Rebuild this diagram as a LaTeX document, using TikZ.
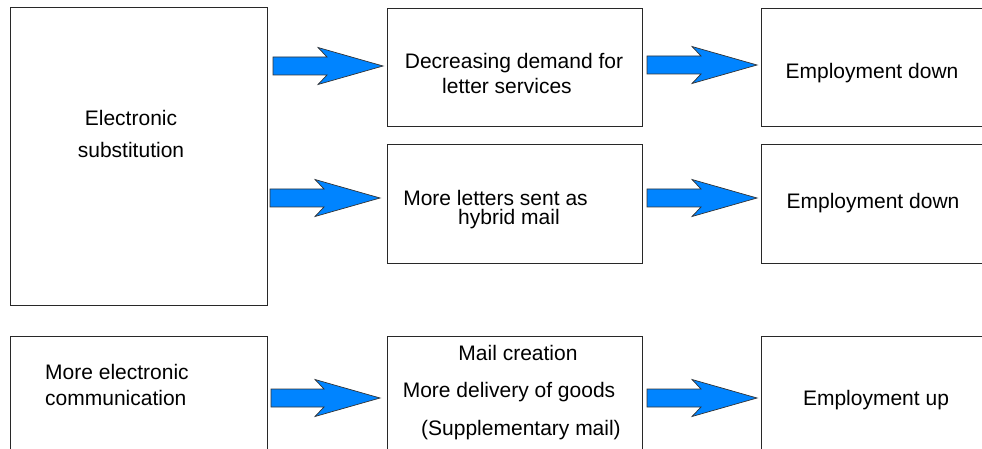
\documentclass[tikz,border=0pt]{standalone}
\usepackage{fontspec}
\setmainfont{Liberation Sans}
\definecolor{arrowblue}{RGB}{0,132,255}
\definecolor{boxline}{RGB}{40,40,40}
\tikzset{
  box/.style={draw=boxline, line width=1pt, fill=white, inner sep=0pt},
  lbl/.style={inner sep=0pt, font=\fontsize{21}{24}\selectfont, text=black},
  tight/.style={text height=0.72em, text depth=0.0em, anchor=base},
  blockarr/.style={draw=black!80, line width=0.7pt, fill=arrowblue, line join=miter}
}
\newcommand\blockarrow[3]{%
  \draw[blockarr] (#1,#3-9) -- (#2-56,#3-9) -- (#2-65,#3-18.5) -- (#2,#3)
    -- (#2-65,#3+18.5) -- (#2-56,#3+9) -- (#1,#3+9) -- cycle;}
\begin{document}
\begin{tikzpicture}[x=1pt,y=-1pt]
\useasboundingbox (0,0) rectangle (982,449);
\clip (0,0) rectangle (982,449);
% boxes
\node[box, minimum width=257pt, minimum height=297pt] (sub) at (138.5,156.5) {};
\node[box, minimum width=255pt, minimum height=118pt] (dem) at (514.5,68) {};
\node[box, minimum width=240pt, minimum height=118pt] (emp1) at (881,68) {};
\node[box, minimum width=255pt, minimum height=118pt] (hyb) at (514.5,204) {};
\node[box, minimum width=240pt, minimum height=118pt] (emp2) at (881,204) {};
\node[box, minimum width=257pt, minimum height=130pt] (com) at (138.5,401) {};
\node[box, minimum width=255pt, minimum height=130pt] (cre) at (514.5,401) {};
\node[box, minimum width=240pt, minimum height=130pt] (emp3) at (881,401) {};
% texts
\node[lbl] (t1a) at (131,118) {Electronic};
\node[lbl] (t1b) at (131,150) {substitution};
\node[lbl] (t2a) at (514,63) {Decreasing demand for};
\node[lbl] (t2b) at (507,86) {letter services};
\node[lbl] (t3) at (872,73) {Employment down};
\node[lbl, tight] (t4a) at (495.5,206) {More letters sent as};
\node[lbl, tight] (t4b) at (509,225) {hybrid mail};
\node[lbl] (t5) at (873,203) {Employment down};
\node[lbl, anchor=west] (t6a) at (45,372) {More electronic};
\node[lbl, anchor=west] (t6b) at (45,398) {communication};
\node[lbl] (t7a) at (518,353) {Mail creation};
\node[lbl] (t7b) at (509,392) {More delivery of goods};
\node[lbl] (t7c) at (521,430) {(Supplementary mail)};
\node[lbl] (t8) at (876,400) {Employment up};
% arrows
\blockarrow{273}{383}{66}
\blockarrow{647}{757}{65}
\blockarrow{270}{380}{198}
\blockarrow{647}{757}{198}
\blockarrow{271}{380}{398}
\blockarrow{647}{757}{398}
\end{tikzpicture}
\end{document}
